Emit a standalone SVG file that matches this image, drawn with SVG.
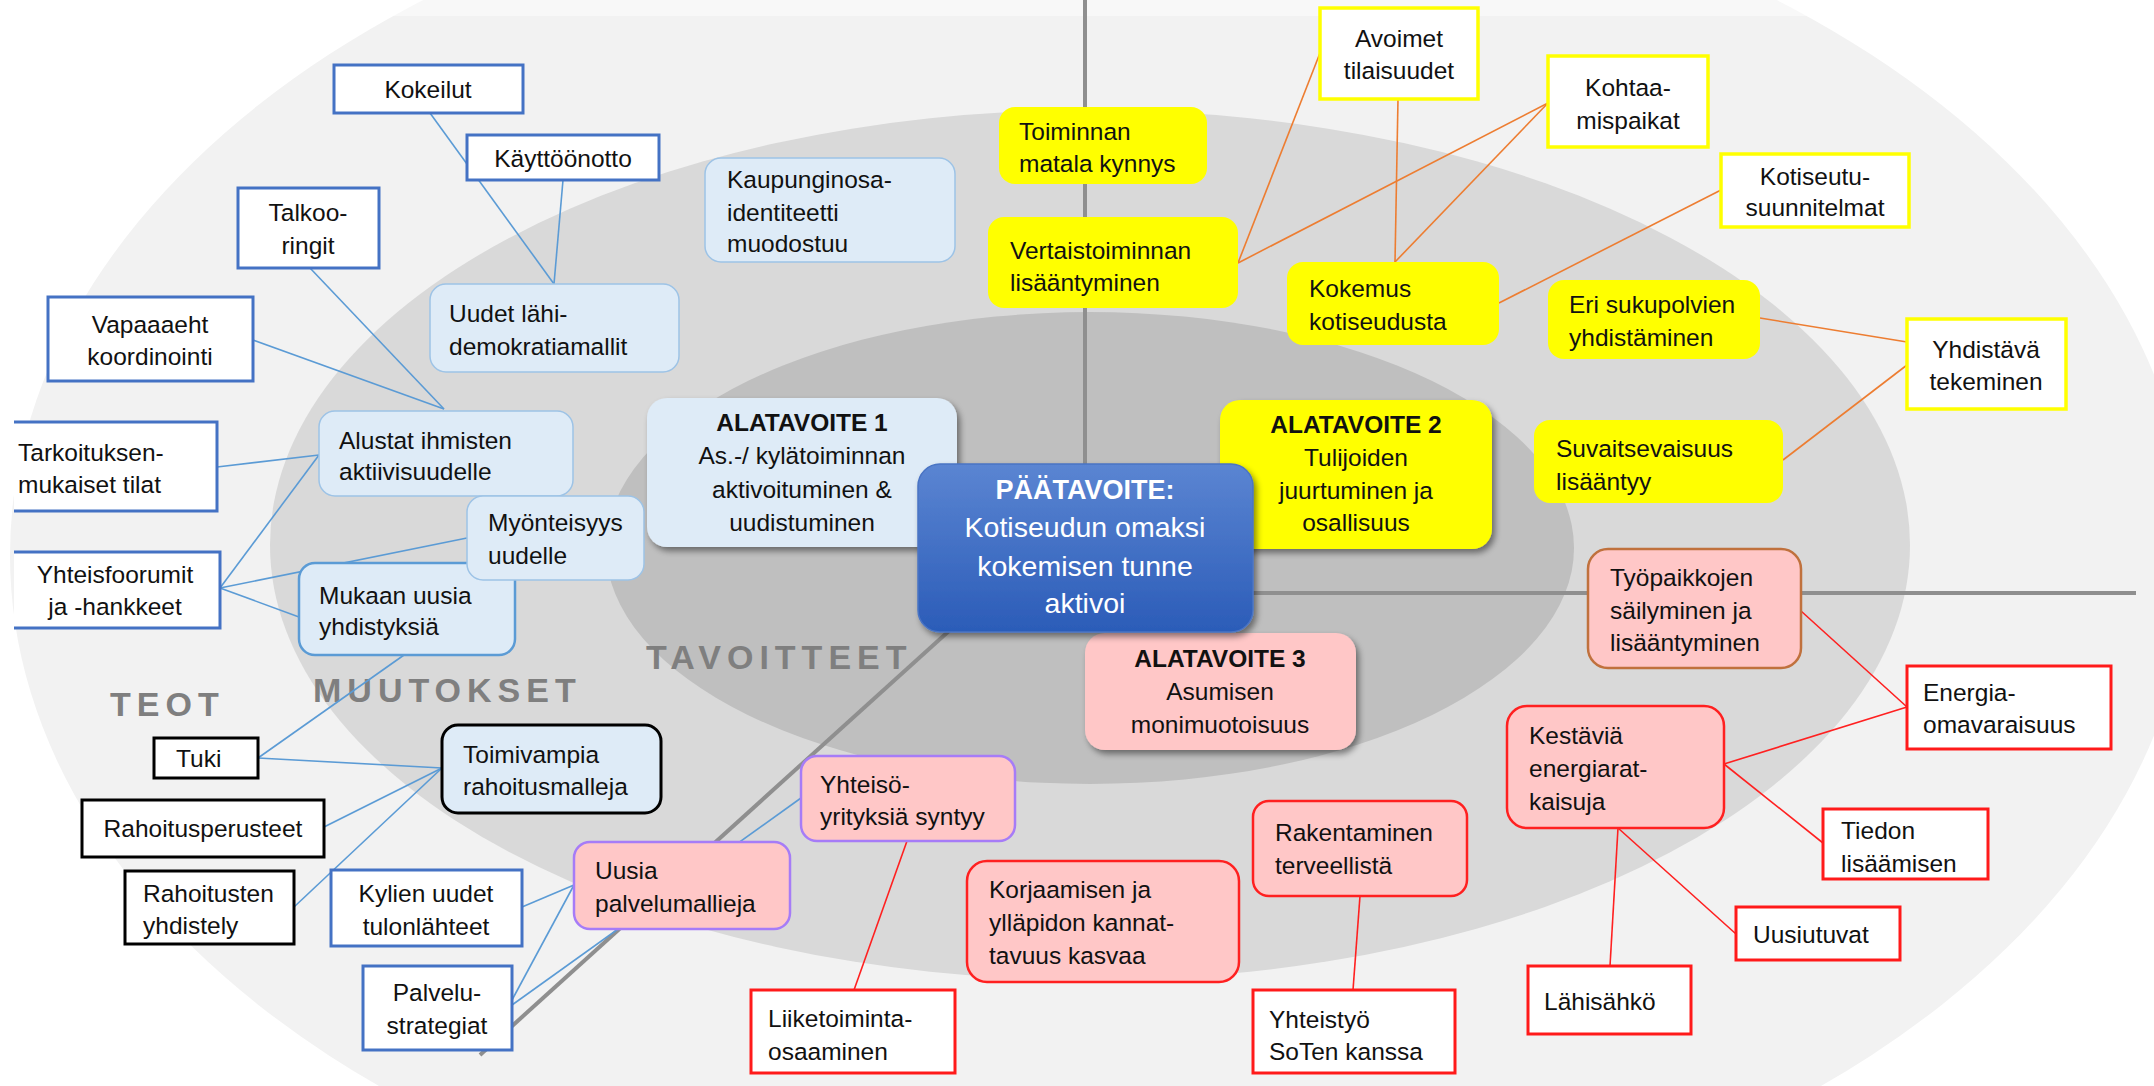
<svg xmlns="http://www.w3.org/2000/svg" width="2154" height="1086" viewBox="0 0 2154 1086">
<defs>
<style>
text{font-family:"Liberation Sans",Arial,sans-serif;font-size:24.5px;fill:#111}
.c{text-anchor:middle}
.b{font-weight:bold}
.zone{font-family:"Liberation Sans",Arial,sans-serif;font-size:34px;font-weight:bold;fill:#7f7f7f;letter-spacing:6px}
.wb{fill:#fff;stroke:#4472c4;stroke-width:3}
.wk{fill:#fff;stroke:#000;stroke-width:3}
.wr{fill:#fff;stroke:#ff1a1a;stroke-width:3}
.wy{fill:#fff;stroke:#ffff00;stroke-width:3.5}
.lb{fill:#deebf7;stroke:#9dc3e6;stroke-width:1.5}
.yl{fill:#ffff00}
.pp{fill:#ffc7c7;stroke:#a67cf7;stroke-width:2.5}
.pr{fill:#ffc7c7;stroke:#ff2020;stroke-width:2.5}
.axis{stroke:#8f8f8f;stroke-width:4;fill:none}
.cb{stroke:#5b9bd5;stroke-width:1.6;fill:none}
.co{stroke:#ed7d31;stroke-width:1.6;fill:none}
.cr{stroke:#ff2020;stroke-width:1.6;fill:none}
</style>
<linearGradient id="gMain" x1="0" y1="0" x2="0" y2="1">
<stop offset="0" stop-color="#5b85d2"/>
<stop offset="1" stop-color="#2b5cb8"/>
</linearGradient>
<filter id="sh" x="-10%" y="-10%" width="125%" height="130%">
<feDropShadow dx="3" dy="4" stdDeviation="3" flood-color="#000" flood-opacity="0.45"/>
</filter>
</defs>

<g id="background">
<rect width="2154" height="1086" fill="#ffffff"/>
<ellipse cx="1100" cy="555" rx="1090" ry="708" fill="#f2f2f2"/>
<rect x="0" y="0" width="2154" height="16" fill="#ffffff" opacity="0.45"/>
<ellipse cx="1090" cy="545" rx="820" ry="435" fill="#d9d9d9"/>
<ellipse cx="1090" cy="548" rx="484" ry="236" fill="#bfbfbf"/>
<line class="axis" x1="1085" y1="0" x2="1085" y2="470"/>
<line class="axis" x1="1250" y1="593" x2="2136" y2="593"/>
<line class="axis" x1="950" y1="630" x2="480" y2="1055"/>
<text class="zone" x="110" y="716">TEOT</text>
<text class="zone" x="313" y="702">MUUTOKSET</text>
<text class="zone" x="646" y="669">TAVOITTEET</text>
</g>

<g id="connectors">
<line class="cb" x1="430" y1="113" x2="554" y2="284"/>
<line class="cb" x1="563" y1="180" x2="554" y2="284"/>
<line class="cb" x1="310" y1="268" x2="444" y2="409"/>
<line class="cb" x1="253" y1="340" x2="444" y2="409"/>
<line class="cb" x1="217" y1="467" x2="319" y2="455"/>
<line class="cb" x1="220" y1="588" x2="319" y2="455"/>
<line class="cb" x1="220" y1="588" x2="467" y2="538"/>
<line class="cb" x1="220" y1="588" x2="299" y2="617"/>
<line class="cb" x1="404" y1="655" x2="258" y2="758"/>
<line class="cb" x1="258" y1="758" x2="442" y2="768"/>
<line class="cb" x1="324" y1="827" x2="442" y2="768"/>
<line class="cb" x1="294" y1="907" x2="442" y2="768"/>
<line class="cb" x1="522" y1="907" x2="574" y2="885"/>
<line class="cb" x1="512" y1="1000" x2="574" y2="885"/>
<line class="cb" x1="512" y1="1005" x2="801" y2="798"/>
<line class="co" x1="1238" y1="263" x2="1320" y2="53"/>
<line class="co" x1="1238" y1="263" x2="1548" y2="103"/>
<line class="co" x1="1398" y1="99" x2="1395" y2="262"/>
<line class="co" x1="1548" y1="103" x2="1395" y2="262"/>
<line class="co" x1="1499" y1="303" x2="1721" y2="190"/>
<line class="co" x1="1760" y1="318" x2="1907" y2="342"/>
<line class="co" x1="1783" y1="460" x2="1907" y2="365"/>
<line class="cr" x1="907" y1="841" x2="854" y2="990"/>
<line class="cr" x1="1360" y1="896" x2="1353" y2="990"/>
<line class="cr" x1="1801" y1="611" x2="1907" y2="707"/>
<line class="cr" x1="1724" y1="764" x2="1907" y2="707"/>
<line class="cr" x1="1724" y1="764" x2="1823" y2="843"/>
<line class="cr" x1="1618" y1="828" x2="1736" y2="934"/>
<line class="cr" x1="1618" y1="828" x2="1610" y2="966"/>
</g>

<g id="n-kokeilut"><rect class="wb" x="334" y="65" width="189" height="48"/><text class="c" x="428" y="98">Kokeilut</text></g>
<g id="n-kayttoonotto"><rect class="wb" x="467" y="135" width="192" height="45"/><text class="c" x="563" y="167">Käyttöönotto</text></g>
<g id="n-talkoo"><rect class="wb" x="238" y="188" width="141" height="80"/><text class="c" x="308" y="221">Talkoo-</text><text class="c" x="308" y="254">ringit</text></g>
<g id="n-vapaaeht"><rect class="wb" x="48" y="297" width="205" height="84"/><text class="c" x="150" y="333">Vapaaaeht</text><text class="c" x="150" y="365">koordinointi</text></g>
<g id="n-uudet"><rect class="lb" x="430" y="284" width="249" height="88" rx="16"/><text x="449" y="322">Uudet lähi-</text><text x="449" y="355">demokratiamallit</text></g>
<g id="n-kaupunginosa"><rect class="lb" x="705" y="158" width="250" height="104" rx="16"/><text x="727" y="188">Kaupunginosa-</text><text x="727" y="221">identiteetti</text><text x="727" y="252">muodostuu</text></g>
<g id="n-alustat"><rect class="lb" x="319" y="411" width="254" height="85" rx="16"/><text x="339" y="449">Alustat ihmisten</text><text x="339" y="480">aktiivisuudelle</text></g>
<g id="n-tarkoituksen"><rect x="14" y="422" width="203" height="89" fill="#fff"/><path d="M14 422H217V511H14" fill="none" stroke="#4472c4" stroke-width="3"/><text x="18" y="461">Tarkoituksen-</text><text x="18" y="493">mukaiset tilat</text></g>
<g id="n-yhteisfoorumit"><rect x="14" y="552" width="206" height="76" fill="#fff"/><path d="M14 552H220V628H14" fill="none" stroke="#4472c4" stroke-width="3"/><text class="c" x="115" y="583">Yhteisfoorumit</text><text class="c" x="115" y="615">ja -hankkeet</text></g>
<g id="n-mukaan"><rect x="299" y="563" width="216" height="92" rx="16" fill="#deebf7" stroke="#5b9bd5" stroke-width="2.5"/><text x="319" y="604">Mukaan uusia</text><text x="319" y="635">yhdistyksiä</text></g>
<g id="n-myonteisyys"><rect class="lb" x="467" y="496" width="177" height="84" rx="16"/><text x="488" y="531">Myönteisyys</text><text x="488" y="564">uudelle</text></g>
<g id="n-tuki"><rect class="wk" x="154" y="738" width="104" height="40"/><text x="176" y="767">Tuki</text></g>
<g id="n-toimivampia"><rect x="442" y="725" width="219" height="88" rx="16" fill="#deebf7" stroke="#000" stroke-width="3"/><text x="463" y="763">Toimivampia</text><text x="463" y="795">rahoitusmalleja</text></g>
<g id="n-rahoitusperusteet"><rect class="wk" x="82" y="800" width="242" height="57"/><text class="c" x="203" y="837">Rahoitusperusteet</text></g>
<g id="n-rahoitusten"><rect class="wk" x="125" y="871" width="169" height="73"/><text x="143" y="902">Rahoitusten</text><text x="143" y="934">yhdistely</text></g>
<g id="n-kylien"><rect class="wb" x="331" y="870" width="191" height="76"/><text class="c" x="426" y="902">Kylien uudet</text><text class="c" x="426" y="935">tulonlähteet</text></g>
<g id="n-palvelustrategiat"><rect class="wb" x="363" y="966" width="149" height="84"/><text class="c" x="437" y="1001">Palvelu-</text><text class="c" x="437" y="1034">strategiat</text></g>
<g id="n-uusia"><rect class="pp" x="574" y="842" width="216" height="87" rx="16"/><text x="595" y="879">Uusia</text><text x="595" y="912">palvelumallieja</text></g>
<g id="n-yhteiso"><rect class="pp" x="801" y="756" width="214" height="85" rx="16"/><text x="820" y="793">Yhteisö-</text><text x="820" y="825">yrityksiä syntyy</text></g>
<g id="n-liiketoiminta"><rect class="wr" x="751" y="990" width="204" height="83"/><text x="768" y="1027">Liiketoiminta-</text><text x="768" y="1060">osaaminen</text></g>
<g id="n-korjaamisen"><rect class="pr" x="967" y="861" width="272" height="121" rx="20"/><text x="989" y="898">Korjaamisen ja</text><text x="989" y="931">ylläpidon kannat-</text><text x="989" y="964">tavuus kasvaa</text></g>
<g id="n-rakentaminen"><rect class="pr" x="1253" y="801" width="214" height="95" rx="16"/><text x="1275" y="841">Rakentaminen</text><text x="1275" y="874">terveellistä</text></g>
<g id="n-yhteistyo"><rect class="wr" x="1253" y="990" width="202" height="83"/><text x="1269" y="1028">Yhteistyö</text><text x="1269" y="1060">SoTen kanssa</text></g>
<g id="n-kestavia"><rect class="pr" x="1507" y="706" width="217" height="122" rx="20"/><text x="1529" y="744">Kestäviä</text><text x="1529" y="777">energiarat-</text><text x="1529" y="810">kaisuja</text></g>
<g id="n-lahisahko"><rect class="wr" x="1528" y="966" width="163" height="68"/><text x="1544" y="1010">Lähisähkö</text></g>
<g id="n-uusiutuvat"><rect class="wr" x="1736" y="907" width="164" height="53"/><text x="1753" y="943">Uusiutuvat</text></g>
<g id="n-tiedon"><rect class="wr" x="1823" y="809" width="165" height="70"/><text x="1841" y="839">Tiedon</text><text x="1841" y="872">lisäämisen</text></g>
<g id="n-energia"><rect class="wr" x="1907" y="666" width="204" height="83"/><text x="1923" y="701">Energia-</text><text x="1923" y="733">omavaraisuus</text></g>
<g id="n-tyopaikkojen"><rect x="1588" y="549" width="213" height="119" rx="20" fill="#ffc7c7" stroke="#c0713d" stroke-width="2.5"/><text x="1610" y="586">Työpaikkojen</text><text x="1610" y="619">säilyminen ja</text><text x="1610" y="651">lisääntyminen</text></g>
<g id="n-suvaitsevaisuus"><rect class="yl" x="1534" y="420" width="249" height="83" rx="16"/><text x="1556" y="457">Suvaitsevaisuus</text><text x="1556" y="490">lisääntyy</text></g>
<g id="n-yhdistava"><rect class="wy" x="1907" y="319" width="159" height="90"/><text class="c" x="1986" y="358">Yhdistävä</text><text class="c" x="1986" y="390">tekeminen</text></g>
<g id="n-erisukupolvien"><rect class="yl" x="1548" y="280" width="212" height="79" rx="16"/><text x="1569" y="313">Eri sukupolvien</text><text x="1569" y="346">yhdistäminen</text></g>
<g id="n-kotiseutu"><rect class="wy" x="1721" y="154" width="188" height="73"/><text class="c" x="1815" y="185">Kotiseutu-</text><text class="c" x="1815" y="216">suunnitelmat</text></g>
<g id="n-kohtaa"><rect class="wy" x="1548" y="56" width="160" height="91"/><text class="c" x="1628" y="96">Kohtaa-</text><text class="c" x="1628" y="129">mispaikat</text></g>
<g id="n-avoimet"><rect class="wy" x="1320" y="8" width="158" height="91"/><text class="c" x="1399" y="47">Avoimet</text><text class="c" x="1399" y="79">tilaisuudet</text></g>
<g id="n-toiminnan"><rect class="yl" x="999" y="107" width="208" height="77" rx="16"/><text x="1019" y="140">Toiminnan</text><text x="1019" y="172">matala kynnys</text></g>
<g id="n-vertaistoiminnan"><rect class="yl" x="988" y="217" width="250" height="91" rx="16"/><text x="1010" y="259">Vertaistoiminnan</text><text x="1010" y="291">lisääntyminen</text></g>
<g id="n-kokemus"><rect class="yl" x="1287" y="262" width="212" height="83" rx="16"/><text x="1309" y="297">Kokemus</text><text x="1309" y="330">kotiseudusta</text></g>

<g id="n-alatavoite1"><rect x="647" y="398" width="310" height="149" rx="20" fill="#deebf7" filter="url(#sh)"/><text class="c b" x="802" y="431">ALATAVOITE 1</text><text class="c" x="802" y="464">As.-/ kylätoiminnan</text><text class="c" x="802" y="498">aktivoituminen &amp;</text><text class="c" x="802" y="531">uudistuminen</text></g>
<g id="n-alatavoite2"><rect x="1220" y="400" width="272" height="149" rx="20" fill="#ffff00" filter="url(#sh)"/><text class="c b" x="1356" y="433">ALATAVOITE 2</text><text class="c" x="1356" y="466">Tulijoiden</text><text class="c" x="1356" y="499">juurtuminen ja</text><text class="c" x="1356" y="531">osallisuus</text></g>
<g id="n-alatavoite3"><rect x="1085" y="633" width="271" height="117" rx="20" fill="#ffc7c7" filter="url(#sh)"/><text class="c b" x="1220" y="667">ALATAVOITE 3</text><text class="c" x="1220" y="700">Asumisen</text><text class="c" x="1220" y="733">monimuotoisuus</text></g>
<g id="n-paatavoite"><rect x="918" y="464" width="335" height="168" rx="22" fill="url(#gMain)" stroke="#4a74c4" stroke-width="1.5" filter="url(#sh)"/><text class="c b" x="1085" y="499" style="font-size:27px;fill:#fff">PÄÄTAVOITE:</text><text class="c" x="1085" y="537" style="font-size:28.5px;fill:#fff">Kotiseudun omaksi</text><text class="c" x="1085" y="576" style="font-size:28.5px;fill:#fff">kokemisen tunne</text><text class="c" x="1085" y="613" style="font-size:28.5px;fill:#fff">aktivoi</text></g>
</svg>
